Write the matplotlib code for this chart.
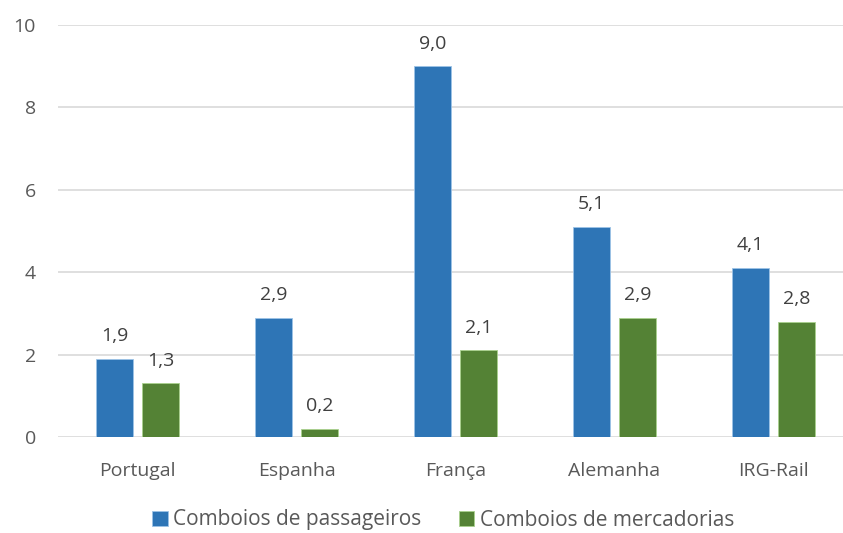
import numpy as np
import matplotlib.pyplot as plt

# dados
paises = ["Portugal", "Espanha", "França", "Alemanha", "IRG-Rail"]
passageiros = [1.9, 2.9, 9.0, 5.1, 4.1]
mercadorias = [1.3, 0.2, 2.1, 2.9, 2.8]
series = ["Comboios de passageiros", "Comboios de mercadorias"]

azul = "#2E75B6"
verde = "#548235"
cinza = "#595959"

plt.rcParams['font.family'] = ['Open Sans', 'DejaVu Sans']

fig = plt.figure(figsize=(8.43, 5.33), dpi=100)
ax = fig.add_axes([58/843, 1-437/533, 795/843, (437-25)/533])

x = np.arange(len(paises))
w = 0.23
off = 0.145
b1 = ax.bar(x - off, passageiros, w, color=azul, edgecolor="#9DC3E6", linewidth=0.6, label=series[0], zorder=3)
b2 = ax.bar(x + off, mercadorias, w, color=verde, edgecolor="#A9D18E", linewidth=0.6, label=series[1], zorder=3)

for bars, vals in ((b1, passageiros), (b2, mercadorias)):
    for b, v in zip(bars, vals):
        ax.text(b.get_x() + b.get_width()/2, v + 0.33, f"{v:.1f}".replace(".", ","),
                ha="center", va="bottom", fontsize=14, color="#404040")

ax.set_xlim(-0.5, 4.5)
ax.set_ylim(0, 10)
ax.set_yticks(range(0, 11, 2))
ax.set_xticks(x)
ax.set_xticklabels(paises)
ax.tick_params(axis="both", length=0, labelsize=14, labelcolor=cinza)
ax.tick_params(axis="x", pad=18)
ax.tick_params(axis="y", pad=16)
ax.yaxis.grid(True, color="#D9D9D9", linewidth=1.2, zorder=0)
for s in ax.spines.values():
    s.set_visible(False)

leg = fig.legend(handles=[b1, b2], labels=series, loc="center", bbox_to_anchor=(443/843, 1-520/533),
                 ncol=2, frameon=False, fontsize=15, handlelength=0.75, handleheight=0.75,
                 handletextpad=0.25, columnspacing=1.8)
for t in leg.get_texts():
    t.set_color(cinza)

fig.savefig("out.png", dpi=100)
